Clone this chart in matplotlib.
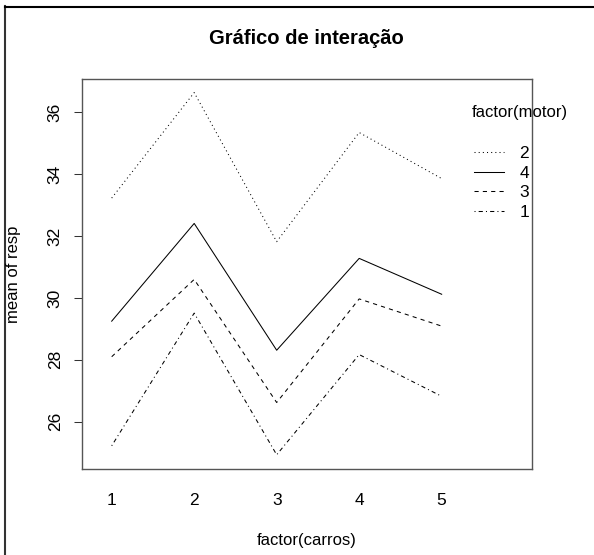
import matplotlib
matplotlib.use("Agg")
import matplotlib.pyplot as plt
from matplotlib.lines import Line2D

plt.rcParams['font.family'] = ['Liberation Sans', 'DejaVu Sans']

# Mean response for each car (x factor) and motor (trace factor)
carros = [1, 2, 3, 4, 5]
motor_levels = ['2', '4', '3', '1']
mean_resp = {
    '2': [33.23, 36.64, 31.82, 35.35, 33.86],
    '4': [29.25, 32.41, 28.31, 31.28, 30.12],
    '3': [28.10, 30.60, 26.62, 29.97, 29.09],
    '1': [25.22, 29.51, 24.93, 28.17, 26.82],
}
y_ticks = [26, 28, 30, 32, 34, 36]

# R-style line types: dotted, solid, dashed, dotdash
line_styles = {
    '2': (0, (1, 3)),
    '4': '-',
    '3': (0, (4, 4)),
    '1': (0, (1, 3, 4, 3)),
}

fig = plt.figure(figsize=(5.94, 5.55), dpi=100)
ax = fig.add_axes([82 / 594, 1 - 469 / 555, (532 - 82) / 594, (469 - 79) / 555])

handles = []
for lvl in motor_levels:
    h, = ax.plot(carros, mean_resp[lvl], color='black', linewidth=0.75,
                 linestyle=line_styles[lvl], label=lvl)
    handles.append(h)

ax.set_xlim(0.64, 6.095)
ax.set_ylim(24.47, 37.08)
ax.margins(0)

ax.set_xticks(carros)
ax.set_xticklabels([str(c) for c in carros])
ax.set_yticks(y_ticks)
ax.set_yticklabels([str(t) for t in y_ticks], rotation=90, va='center')
ax.tick_params(axis='x', length=0, pad=17, labelsize=12.5)
ax.tick_params(axis='y', length=5.8, width=0.75, color='#333333',
               pad=8, labelsize=12.5, direction='out')

for sp in ax.spines.values():
    sp.set_color('#555555')
    sp.set_linewidth(1.0)

fig.text(306 / 594, 1 - 39 / 555, 'Gráfico de interação', ha='center',
         va='center', fontsize=14.5, fontweight='bold')
fig.text(307 / 594, 1 - 541 / 555, 'factor(carros)', ha='center', va='center',
         fontsize=12)
fig.text(14 / 594, 1 - 274 / 555, 'mean of resp', ha='center', va='center',
         rotation=90, fontsize=12)

# Legend for the trace factor
fig.text(471.5 / 594, 1 - 113 / 555, 'factor(motor)', ha='left', va='center',
         fontsize=12)
leg = ax.legend(handles=handles, labels=motor_levels, frameon=False,
                loc='upper left', bbox_to_anchor=(473.5 / 594, 1 - 146 / 555),
                bbox_transform=fig.transFigure, fontsize=12.5,
                handlelength=1.75, handletextpad=0.9, labelspacing=0.25,
                borderpad=0, borderaxespad=0)

# Outer frame of the figure
fig.add_artist(Line2D([5.0 / 594, 5.0 / 594], [0, 1 - 6 / 555],
                      transform=fig.transFigure, color='#333333', linewidth=1.5))
fig.add_artist(Line2D([4.5 / 594, 1], [1 - 6.5 / 555, 1 - 6.5 / 555],
                      transform=fig.transFigure, color='black', linewidth=1.5))

fig.savefig('out.png', dpi=100)
